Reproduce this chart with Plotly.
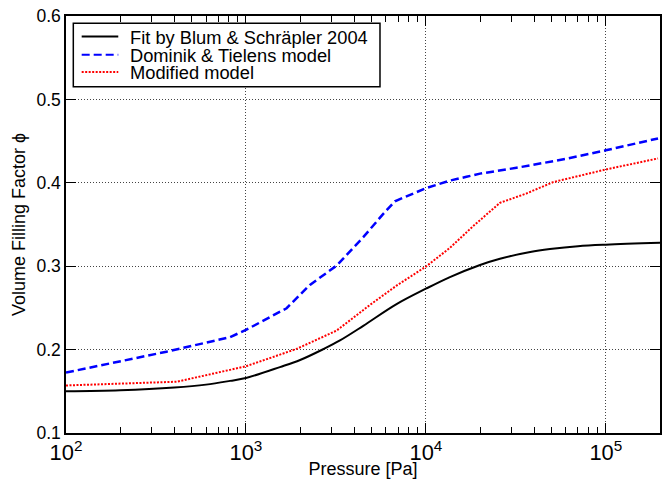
import plotly.graph_objects as go

# Fit by Blum & Schräpler 2004
p_fit = [100, 200, 400, 600, 815, 1000, 1545, 2000, 2690, 3330, 4487, 6870, 10000, 13600,
         20000, 25800, 38000, 48900, 70000, 100000, 200000]
phi_fit = [0.150, 0.1512, 0.1545, 0.158, 0.1625, 0.1660, 0.1790, 0.1875, 0.2005, 0.2110, 0.2285,
           0.2545, 0.2730, 0.2870, 0.3015, 0.3090, 0.3170, 0.3205, 0.3240, 0.3258, 0.3280]

# Dominik & Tielens model
p_dt = [100, 362, 815, 1000, 1683, 2268, 3190, 4487, 5795, 6730, 10000, 13600, 16800,
        20000, 31900, 60500, 100000, 195000]
phi_dt = [0.1725, 0.1975, 0.2149, 0.2236, 0.2496, 0.2776, 0.3007, 0.3348, 0.3627, 0.3779,
          0.3935, 0.4026, 0.4072, 0.411, 0.418, 0.4288, 0.439, 0.4532]

# Modified model
p_mod = [100, 412, 815, 1000, 1910, 3190, 4890, 6870, 10000, 13600, 18300, 25800, 36200,
         50900, 100000, 195000]
phi_mod = [0.157, 0.1615, 0.1757, 0.1800, 0.2008, 0.2228, 0.2536, 0.2767, 0.2995, 0.322,
           0.348, 0.376, 0.3872, 0.4008, 0.416, 0.4292]

series_names = ["Fit by Blum &amp; Schräpler 2004", "Dominik &amp; Tielens model", "Modified model"]

y_tickvals = [0.1, 0.2, 0.3, 0.4, 0.5, 0.6]
y_ticktext = ["0.1", "0.2", "0.3", "0.4", "0.5", "0.6"]

FONT = "Liberation Sans"
colors = ["black", "#0000ff", "#ff0000"]
widths = [2, 2.5, 2]
dashes = ["solid", "8px,4px", "2px,1.5px"]

fig = go.Figure()
fig.add_trace(go.Scatter(x=p_fit, y=phi_fit, mode="lines", name=series_names[0], showlegend=False,
                         line=dict(color=colors[0], width=widths[0], shape="spline", smoothing=1.0)))
fig.add_trace(go.Scatter(x=p_dt, y=phi_dt, mode="lines", name=series_names[1], showlegend=False,
                         line=dict(color=colors[1], width=widths[1], dash=dashes[1])))
fig.add_trace(go.Scatter(x=p_mod, y=phi_mod, mode="lines", name=series_names[2], showlegend=False,
                         line=dict(color=colors[2], width=widths[2], dash=dashes[2])))

axis_common = dict(showline=True, linecolor="black", linewidth=1.5, mirror="allticks",
                   ticks="inside", ticklen=10, tickwidth=1, tickcolor="black", showgrid=True,
                   gridcolor="#444444", griddash="1px,2px", gridwidth=1, zeroline=False,
                   automargin=False,
                   tickfont=dict(family=FONT, size=17.5, color="black"))

fig.update_xaxes(type="log", range=[2, 5.301], tickmode="linear", tick0=0, dtick=1,
                 exponentformat="power", showexponent="all",
                 title=dict(text="Pressure [Pa]", font=dict(family=FONT, size=18, color="black"),
                            standoff=0),
                 minor=dict(ticks="inside", ticklen=6, tickwidth=1, tickcolor="black",
                            dtick="D1", showgrid=False),
                 **axis_common)
fig.update_yaxes(range=[0.1, 0.6], tickvals=y_tickvals, ticktext=y_ticktext,
                 title=dict(text="Volume Filling Factor ϕ", font=dict(family=FONT, size=18, color="black"),
                            standoff=6),
                 **axis_common)

# Legend drawn as a boxed key (paper coordinates of the plot area)
legend_rows_y = [0.951, 0.907, 0.866]
fig.add_shape(type="rect", xref="paper", yref="paper", x0=0.0123, x1=0.5286, y0=0.8305, y1=0.9825,
              line=dict(color="black", width=1.5), fillcolor="white", layer="above")
for i in range(3):
    fig.add_shape(type="line", xref="paper", yref="paper", x0=0.0264, x1=0.0880,
                  y0=legend_rows_y[i], y1=legend_rows_y[i], layer="above",
                  line=dict(color=colors[i], width=widths[i] if i != 1 else 2, dash=dashes[i]))
    fig.add_annotation(xref="paper", yref="paper", x=0.1044, y=legend_rows_y[i] - 0.002,
                       xanchor="left", yanchor="middle", text=series_names[i], showarrow=False,
                       font=dict(family=FONT, size=18.3, color="black"))

fig.update_layout(
    width=672, height=479,
    margin=dict(l=66, r=12, t=16, b=46),
    paper_bgcolor="white", plot_bgcolor="white",
    font=dict(family=FONT, size=17, color="black"),
    showlegend=False,
)

# remove the default 8px page margin so the figure fills the window exactly
fig.write_html("out.html", config={"displayModeBar": False},
               post_script="document.body.style.margin='0';")
